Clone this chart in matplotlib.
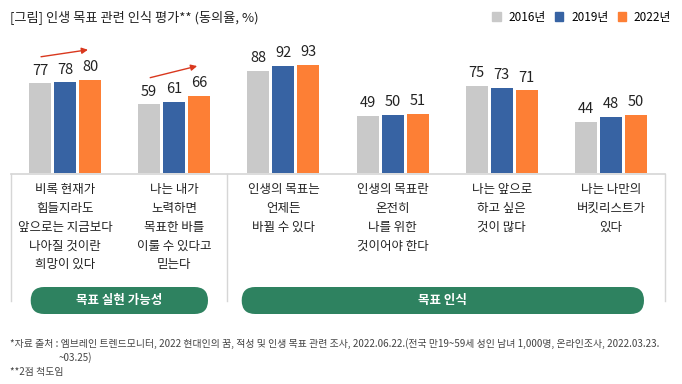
import matplotlib.pyplot as plt
import numpy as np
from matplotlib.patches import FancyBboxPatch, Patch
from matplotlib.transforms import blended_transform_factory

plt.rcParams['font.family'] = ['Noto Sans CJK KR', 'DejaVu Sans']

# data
years = ['2016년', '2019년', '2022년']
v2016 = [77, 59, 88, 49, 75, 44]
v2019 = [78, 61, 92, 50, 73, 48]
v2022 = [80, 66, 93, 51, 71, 50]
categories = [
    "비록 현재가\n힘들지라도\n앞으로는 지금보다\n나아질 것이란\n희망이 있다",
    "나는 내가\n노력하면\n목표한 바를\n이룰 수 있다고\n믿는다",
    "인생의 목표는\n언제든\n바뀔 수 있다",
    "인생의 목표란\n온전히\n나를 위한\n것이어야 한다",
    "나는 앞으로\n하고 싶은\n것이 많다",
    "나는 나만의\n버킷리스트가\n있다",
]
groups = ['목표 실현 가능성', '목표 인식']
group_members = [[0, 1], [2, 3, 4, 5]]
title = "[그림] 인생 목표 관련 인식 평가** (동의율, %)"
source = ("*자료 출처 : 엠브레인 트렌드모니터, 2022 현대인의 꿈, 적성 및 인생 목표 관련 조사, "
          "2022.06.22.(전국 만19~59세 성인 남녀 1,000명, 온라인조사, 2022.03.23.")
source2 = "~03.25)"
note = "**2점 척도임"

colors = ['#c9c9c9', '#3763a3', '#fd7f35']
green = '#2e8260'
line_c = '#d6d6d6'

W, H = 682, 384
fig = plt.figure(figsize=(W / 100, H / 100), dpi=100)

# overlay axes in pixel coords (y from top)
ov = fig.add_axes([0, 0, 1, 1])
ov.set_xlim(0, W)
ov.set_ylim(H, 0)
ov.axis('off')

# bar axes: baseline at y=173 px, 1.1625 px per unit
base_px = 173
ppu = 1.1625
top_val = 100
ax = fig.add_axes([10 / W, 1 - base_px / H, (672 - 10) / W, top_val * ppu / H])
x = np.arange(len(categories))
bw = 0.2
off = 0.229
for k, vals in enumerate([v2016, v2019, v2022]):
    xs = x + (k - 1) * off
    ax.bar(xs, vals, width=bw, color=colors[k], zorder=2)
    for xi, v in zip(xs, vals):
        ax.text(xi, v + 5, str(v), ha='center', va='bottom', fontsize=10.5, color='#222222')
ax.set_xlim(-0.504, 5.559)
ax.set_ylim(0, top_val)
ax.axis('off')

# trend arrows for first group
for i in group_members[0]:
    ax.annotate('', xy=(i + 0.21, v2022[i] + 26), xytext=(i - 0.22, v2016[i] + 23),
                arrowprops=dict(arrowstyle='-|>', color='#d9381e', lw=1.0,
                                mutation_scale=9, shrinkA=0, shrinkB=0),
                annotation_clip=False)

# frame lines
ov.plot([10.7, 665], [174.3, 174.3], color=line_c, lw=1.2)
for xv in [10.7, 227, 665]:
    ov.plot([xv, xv], [174.3, 301], color=line_c, lw=1.0)

# category labels
tr = blended_transform_factory(ax.transData, ov.transData)
for i, c in enumerate(categories):
    ov.text(i, 183, c, transform=tr, ha='center', va='top', fontsize=9,
            linespacing=1.58, color='#222222')

# group pills
pills = [(30.7, 208), (241.7, 644)]
for (x0, x1), g in zip(pills, groups):
    ov.add_patch(FancyBboxPatch((x0, 287), x1 - x0, 27,
                                boxstyle='round,pad=0,rounding_size=13.5',
                                fc=green, ec='none'))
    ov.text((x0 + x1) / 2, 300.5, g, ha='center', va='center', fontsize=9,
            color='white', fontweight='bold')

# title and legend
ov.text(10, 17, title, ha='left', va='center', fontsize=9.5, color='#222222')
handles = [Patch(color=c) for c in colors]
fig.legend(handles, years, loc='center right', bbox_to_anchor=(671 / W, 1 - 17 / H),
           ncol=3, frameon=False, fontsize=8.5, handlelength=0.7, handleheight=0.7,
           handletextpad=0.65, columnspacing=0.8, borderaxespad=0, borderpad=0)

# footnotes
ov.text(10, 344, source, ha='left', va='center', fontsize=7.1, color='#444444')
ov.text(59, 357.5, source2, ha='left', va='center', fontsize=7.1, color='#444444')
ov.text(10, 372, note, ha='left', va='center', fontsize=7.1, color='#444444')

fig.savefig('out.png', dpi=100)
